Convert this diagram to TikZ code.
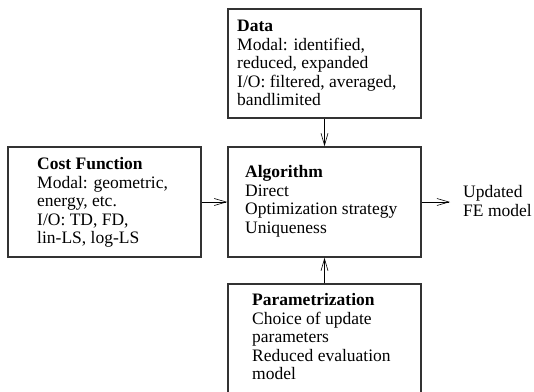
\documentclass[tikz,border=0pt]{standalone}
\usepackage{fontspec}
\setmainfont{Liberation Serif}
\usetikzlibrary{arrows.meta}
\begin{document}
\begin{tikzpicture}[x=1pt,y=-1pt,
  box/.style={draw=black!80,line width=1.4pt,rectangle,inner sep=0pt},
  txt/.style={anchor=north west,inner sep=0pt,align=left,font=\fontsize{17.5}{18.5}\selectfont},
  conn/.style={line width=0.9pt,-{Straight Barb[length=12pt,width=7pt,line width=0.6pt]}}]
\useasboundingbox (0,0) rectangle (534,391);
\clip (0,0) rectangle (534,391);
\node[box,minimum width=193pt,minimum height=109pt] (data) at (324.5,63.5) {};
\node[box,minimum width=193pt,minimum height=110pt] (cost) at (104.5,202) {};
\node[box,minimum width=193pt,minimum height=110pt] (algo) at (324.5,202) {};
\node[box,minimum width=193pt,minimum height=120pt] (param) at (324.5,344) {};
\coordinate (out) at (450,202);
\node[txt] (datat) at (237,20.2) {\textbf{Data}\\Modal: identified,\\reduced, expanded\\I/O: filtered, averaged,\\bandlimited};
\node[txt] (costt) at (37,157.2) {\textbf{Cost Function}\\Modal: geometric,\\energy, etc.\\I/O: TD, FD,\\lin-LS, log-LS};
\node[txt] (algot) at (245,165.2) {\textbf{Algorithm}\\Direct\\Optimization strategy\\Uniqueness};
\node[txt] (paramt) at (252,293.2) {\textbf{Parametrization}\\Choice of update\\parameters\\Reduced evaluation\\model};
\node[txt] (updt) at (463,185.2) {Updated\\FE model};
\draw[conn] (data.south) -- (algo.north);
\draw[conn] (param.north) -- (algo.south);
\draw[conn] (cost.east) -- (algo.west);
\draw[conn] (algo.east) -- (out);
\end{tikzpicture}
\end{document}
